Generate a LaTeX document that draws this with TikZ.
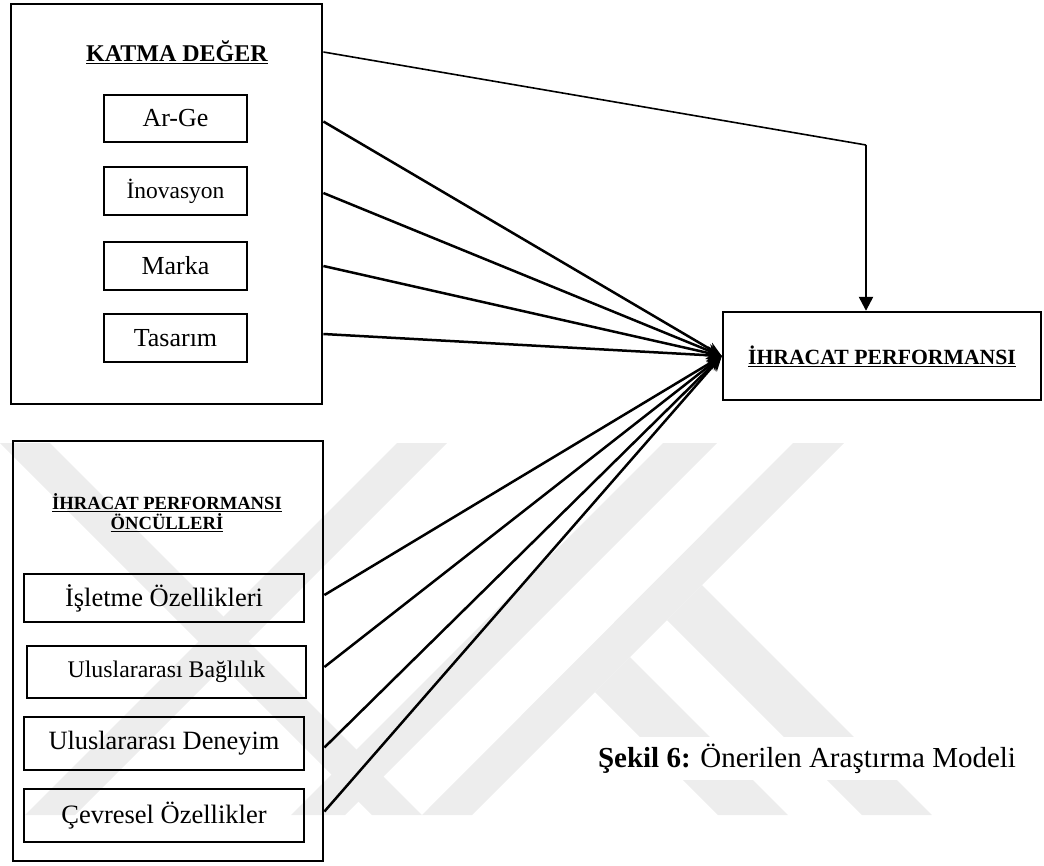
\documentclass[tikz,border=0pt]{standalone}
\usepackage{fontspec}
\setmainfont{Liberation Serif}
\usetikzlibrary{arrows.meta}
\begin{document}
\begin{tikzpicture}[x=1pt,y=-1pt,
  outerbox/.style={draw, line width=2.4pt, anchor=north west, inner sep=0pt},
  itembox/.style={draw, line width=1.9pt, inner sep=0pt, align=center},
  title/.style={font=\bfseries, align=center, inner sep=0pt},
  link/.style={line width=2.5pt, -{Stealth[length=15pt,width=13pt]}},
  stripe/.style={fill=black!7, draw=none},
]
\useasboundingbox (0,0) rectangle (1044,865);

% faint background emblem of diagonal stripes
\begin{scope}
  \clip (0,443) rectangle (1044,815);
  \fill[stripe] (0,443) -- (50,443) -- (422,815) -- (372,815) -- cycle;
  \fill[stripe] (397,443) -- (447,443) -- (75,815) -- (25,815) -- cycle;
  \fill[stripe] (663,443) -- (717,443) -- (345,815) -- (291,815) -- cycle;
  \fill[stripe] (793,443) -- (844,443) -- (472,815) -- (422,815) -- cycle;
  \fill[stripe] (702,585) -- (932,815) -- (862,815) -- (667,620) -- cycle;
  \fill[stripe] (630,657) -- (788,815) -- (718,815) -- (595,692) -- cycle;
\end{scope}

% group: value added
\node[outerbox, minimum width=311pt, minimum height=400pt] (kd) at (10,3) {};
\node[title, font=\fontsize{24}{28}\selectfont\bfseries] (kdt) at (177,52) {\underline{KATMA DEĞER}};
\node[itembox, minimum width=143pt, minimum height=47pt, font=\fontsize{26}{30}\selectfont] (arge) at (175.5,118.5) {Ar-Ge};
\node[itembox, minimum width=143pt, minimum height=48pt, font=\fontsize{23.5}{28}\selectfont] (inov) at (175.5,191) {İnovasyon};
\node[itembox, minimum width=143pt, minimum height=48pt, font=\fontsize{26}{30}\selectfont] (marka) at (175.5,266) {Marka};
\node[itembox, minimum width=143pt, minimum height=48pt, font=\fontsize{26}{30}\selectfont] (tasarim) at (175.5,338) {Tasarım};

% group: antecedents of export performance
\node[outerbox, minimum width=310pt, minimum height=420pt] (ip) at (12,440) {};
\node[title, font=\fontsize{18.6}{20}\selectfont\bfseries] (ipt) at (167,513) {\underline{İHRACAT PERFORMANSI}\\\underline{ÖNCÜLLERİ}};
\node[itembox, minimum width=280pt, minimum height=48pt, font=\fontsize{26.5}{30}\selectfont] (isletme) at (164,598) {İşletme Özellikleri};
\node[itembox, minimum width=279pt, minimum height=52pt, font=\fontsize{23.8}{28}\selectfont] (baglilik) at (166.5,672) {Uluslararası Bağlılık};
\node[itembox, minimum width=280pt, minimum height=53pt, font=\fontsize{26.4}{30}\selectfont] (deneyim) at (164,743.5) {Uluslararası Deneyim};
\node[itembox, minimum width=280pt, minimum height=53pt, font=\fontsize{26.5}{30}\selectfont] (cevre) at (164,815.5) {Çevresel Özellikler};

% target
\node[draw, line width=2.4pt, minimum width=318pt, minimum height=88pt, inner sep=0pt,
      font=\fontsize{21.7}{24}\selectfont\bfseries] (tp) at (882,356) {\underline{İHRACAT PERFORMANSI}};

% caption on a white panel
\node[fill=white, inner sep=0pt, minimum width=426pt, minimum height=43pt,
      font=\fontsize{29}{32}\selectfont] (cap) at (807,758.5) {\textbf{Şekil 6:} Önerilen Araştırma Modeli};

% connectors
\coordinate (bend) at (866,145);
\draw[line width=1.6pt] (kd.east |- kdt) -- (bend);
\draw[line width=2.4pt, -{Triangle[length=14pt,width=14pt]}] (bend) -- (bend |- tp.north);

\foreach \n/\dy in {arge/3, inov/2, marka/0, tasarim/-4}
  \draw[link] ([yshift=-\dy pt]kd.east |- \n) -- (tp.west);
\foreach \n/\dy in {isletme/-3, baglilik/-5, deneyim/4, cevre/-4}
  \draw[link] ([yshift=-\dy pt]ip.east |- \n) -- (tp.west);
\end{tikzpicture}
\end{document}
